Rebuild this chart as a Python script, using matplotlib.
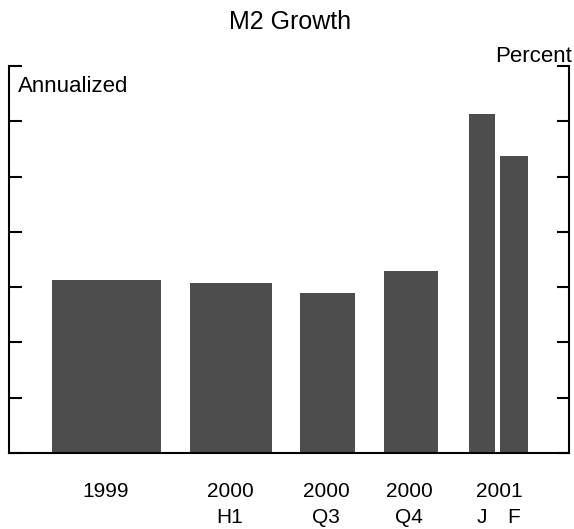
import matplotlib.pyplot as plt

# =========================
# DATOS
# =========================
labels_top = ["1999", "2000", "2000", "2000", "2001", ""]
labels_bottom = ["", "H1", "Q3", "Q4", "J", "F"]
values = [3.13, 3.07, 2.89, 3.29, 6.13, 5.37]

# posiciones / anchos (px dentro del eje)
centers = [97.5, 222, 318.5, 402, 473, 505]
widths = [109, 82, 55, 54, 26, 28]

plt.rcParams['font.family'] = ['Liberation Sans', 'DejaVu Sans']

fig = plt.figure(figsize=(5.74, 5.29), dpi=100)
ax = fig.add_axes([9 / 574, 76 / 529, 560 / 574, 387 / 529])

ax.bar(centers, values, width=widths, color="#4d4d4d")
ax.set_xlim(0, 560)
ax.set_ylim(0, 7)

ax.set_yticks(range(0, 8))
ax.set_yticklabels([])
ax.set_xticks([])
ax.tick_params(axis="y", direction="in", length=9, width=1.5, left=True, right=True)

ax.spines["top"].set_visible(False)
for s in ["left", "right", "bottom"]:
    ax.spines[s].set_linewidth(1.5)

fig.text(290 / 574, 1 - 29 / 529, "M2 Growth", ha="center", va="baseline", fontsize=18)
fig.text(572 / 574, 1 - 62 / 529, "Percent", ha="right", va="baseline", fontsize=16)
fig.text(18 / 574, 1 - 92 / 529, "Annualized", ha="left", va="baseline", fontsize=16)

label_x = [106, 230, 326, 409, 482, 514]
for x, t, b in zip(label_x, labels_top, labels_bottom):
    if t:
        tx = 499 if t == "2001" else x
        fig.text(tx / 574, 1 - 497 / 529, t, ha="center", va="baseline", fontsize=15)
    if b:
        fig.text(x / 574, 1 - 523 / 529, b, ha="center", va="baseline", fontsize=15)

fig.savefig("out.png", dpi=100)
